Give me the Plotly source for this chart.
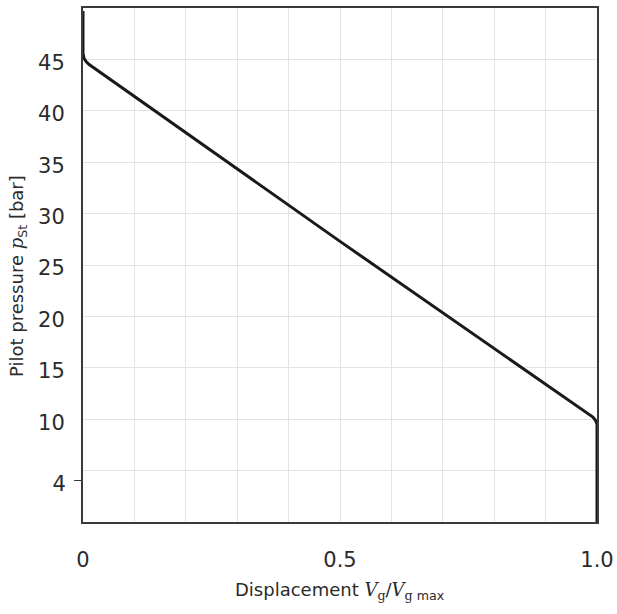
import plotly.graph_objects as go

# Characteristic curve: displacement vs pilot pressure
displacement = [0.0, 0.0, 0.002, 0.006, 0.012, 0.5, 0.992, 0.997, 1.0, 1.0]
pilot_pressure = [49.7, 45.6, 45.1, 44.8, 44.5, 27.3, 10.2, 9.9, 9.5, 0.0]

x_tick_vals = [0, 0.5, 1.0]
x_tick_text = ["0", "0.5", "1.0"]
x_grid_vals = [0.1, 0.2, 0.3, 0.4, 0.5, 0.6, 0.7, 0.8, 0.9]
y_tick_vals = [10, 15, 20, 25, 30, 35, 40, 45]
y_tick_text = ["10", "15", "20", "25", "30", "35", "40", "45"]
y_extra_tick = [4]
y_extra_text = ["4"]
y_grid_vals = [5, 10, 15, 20, 25, 30, 35, 40, 45]

FONT = "DejaVu Sans"
SERIF = "DejaVu Serif"
TXT = "#2b2b2b"
AX = "#3a3a3e"
GRID = "#e3e3e3"

fig = go.Figure()
fig.add_trace(go.Scatter(
    x=displacement, y=pilot_pressure, mode="lines",
    line=dict(color="#1a1a1a", width=3), hoverinfo="skip", showlegend=False,
))
# helper trace so the second y axis (carrying the "4" tick) is rendered
fig.add_trace(go.Scatter(
    x=[displacement[-1]], y=[pilot_pressure[-1]], yaxis="y2", mode="lines",
    line=dict(color="rgba(0,0,0,0)"), hoverinfo="skip", showlegend=False,
))

xtitle = ("Displacement <i><span style=\"font-family:'%s'\">V</span></i>"
          "<sub><span style=\"font-family:'%s'\">g</span></sub>/"
          "<i><span style=\"font-family:'%s'\">V</span></i>"
          "<sub><span style=\"font-family:'%s'\">g</span> max</sub>") % (SERIF, SERIF, SERIF, SERIF)
ytitle = ("Pilot pressure <i><span style=\"font-family:'%s'\">p</span></i>"
          "<sub>St</sub> [bar]") % SERIF

tickfont = dict(size=21, family=FONT, color=TXT)

fig.update_layout(
    width=617, height=614,
    margin=dict(l=83, r=20, t=8, b=92),
    paper_bgcolor="white", plot_bgcolor="white",
    font=dict(family=FONT, color=TXT),
    xaxis=dict(
        range=[0, 1], tickvals=x_tick_vals, ticktext=x_tick_text,
        showgrid=False, zeroline=False, ticks="", ticklabelstandoff=18,
        tickfont=tickfont, automargin=False,
        showline=True, mirror=True, linecolor=AX, linewidth=2,
        minor=dict(tickvals=x_grid_vals, showgrid=True, gridcolor=GRID, gridwidth=1, ticks=""),
    ),
    yaxis=dict(
        range=[0, 50], tickvals=y_tick_vals, ticktext=y_tick_text,
        showgrid=False, zeroline=False, ticks="outside", ticklen=8,
        tickcolor="rgba(0,0,0,0)", ticklabelstandoff=4, ticklabelshift=3,
        tickfont=tickfont, automargin=False,
        showline=True, mirror=True, linecolor=AX, linewidth=2,
        minor=dict(tickvals=y_grid_vals, showgrid=True, gridcolor=GRID, gridwidth=1, ticks=""),
    ),
    yaxis2=dict(
        range=[0, 50], overlaying="y", side="left", tickvals=y_extra_tick,
        ticktext=y_extra_text, showgrid=False, zeroline=False,
        ticks="outside", ticklen=8, tickwidth=1, tickcolor=AX,
        ticklabelstandoff=4, ticklabelshift=3, tickfont=tickfont, automargin=False,
        showline=False,
    ),
    annotations=[
        dict(text=xtitle, xref="paper", yref="paper", x=0.5, y=-0.134,
             xanchor="center", yanchor="middle", showarrow=False,
             font=dict(size=18, family=FONT, color=TXT)),
        dict(text=ytitle, xref="paper", yref="paper", x=-0.126, y=0.479,
             xanchor="center", yanchor="middle", showarrow=False, textangle=-90,
             font=dict(size=18, family=FONT, color=TXT)),
    ],
)

fig.write_html("out.html", config={"displayModeBar": False},
               post_script="document.body.style.margin='0';")
